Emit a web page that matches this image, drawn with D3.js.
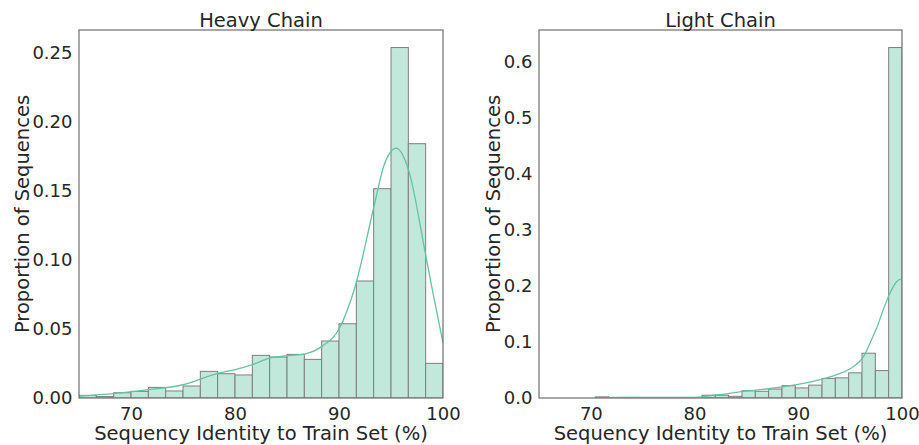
<!DOCTYPE html>
<html>
<head>
<meta charset="utf-8">
<script src="https://cdn.jsdelivr.net/npm/d3@7"></script>
<style>
  html, body { margin: 0; padding: 0; background: #ffffff; }
  svg text { font-family: "DejaVu Sans", sans-serif; fill: #262626; }
</style>
</head>
<body>
<svg id="chart" width="919" height="445"></svg>
<script>
// Heavy chain: 21 bins spanning 65–100 % identity
const heavyBinStart = 65;
const heavyBinEnd = 100;
const heavyProportions = [
  0.0019, 0.0010, 0.0038, 0.0048, 0.0077, 0.0051, 0.0087,
  0.0193, 0.0176, 0.0167, 0.0309, 0.0297, 0.0316, 0.0280,
  0.0413, 0.0538, 0.0848, 0.1517, 0.2540, 0.1843, 0.0251
];
// Heavy chain density curve (identity %, proportion)
const heavyKdeX = [65.1, 68.3, 71.7, 75.0, 78.4, 80.0, 81.6, 83.4, 85.1, 86.75,
  88.36, 89.96, 91.56, 93.33, 94.3, 95.5, 96.7, 98.3, 99.1, 100];
const heavyKdeY = [0.0014, 0.0031, 0.0060, 0.0096, 0.0180, 0.0205, 0.0240, 0.0290, 0.0307, 0.0320,
  0.0374, 0.0495, 0.0810, 0.1377, 0.1680, 0.1810, 0.1650, 0.1050, 0.0736, 0.0400];

// Light chain: 28 bins spanning 64–100 % identity
const lightBinStart = 64;
const lightBinEnd = 100;
const lightProportions = [
  0, 0, 0, 0, 0, 0.002, 0, 0.001, 0, 0, 0, 0, 0,
  0.005, 0.005, 0.003, 0.013, 0.012, 0.016, 0.022, 0.018,
  0.023, 0.035, 0.036, 0.045, 0.080, 0.049, 0.626
];
// Light chain density curve (identity %, proportion)
const lightKdeX = [70.5, 73, 76, 79.6, 82.1, 84.7, 87.3, 89.85, 92.4, 93.7,
  95.0, 96.3, 97.2, 97.56, 98.2, 98.84, 99.5, 99.87, 100];
const lightKdeY = [0.0008, 0.0009, 0.0010, 0.0010, 0.0054, 0.0118, 0.0170, 0.0238, 0.0340, 0.0416,
  0.0523, 0.0743, 0.1100, 0.1250, 0.1580, 0.1875, 0.2080, 0.2125, 0.2120];

const xTicks = [70, 80, 90, 100];
const heavyYTicks = [0, 0.05, 0.10, 0.15, 0.20, 0.25];
const lightYTicks = [0, 0.1, 0.2, 0.3, 0.4, 0.5, 0.6];

const titles = ["Heavy Chain", "Light Chain"];
const xLabel = "Sequency Identity to Train Set (%)";
const yLabel = "Proportion of Sequences";

const barFill = "#c2e7db";
const barEdge = "#7f7f7f";
const lineColor = "#66c2a5";
const spineColor = "#6e6e6e";
const labelSize = 19.5;
const tickSize = 18;

const svg = d3.select("#chart");

function panel(opts) {
  const { left, right, top, bottom, idx, start, end, values, kx, ky, yTicks, yFmt } = opts;
  const x = d3.scaleLinear().domain([65, 100]).range([left, right]);
  const yMax = d3.max(values) * 1.05;
  const y = d3.scaleLinear().domain([0, yMax]).range([bottom, top]);
  const n = values.length;
  const w = (end - start) / n;
  const bins = values.map((v, i) => ({ x0: start + i * w, x1: start + (i + 1) * w, v }));

  const g = svg.append("g");
  const clipId = "clip" + idx;
  svg.append("defs").append("clipPath").attr("id", clipId)
    .append("rect").attr("x", left).attr("y", top)
    .attr("width", right - left).attr("height", bottom - top);

  const plot = g.append("g").attr("clip-path", `url(#${clipId})`);
  plot.selectAll("rect.bar").data(bins).join("rect")
    .attr("class", "bar")
    .attr("x", d => x(d.x0))
    .attr("width", d => x(d.x1) - x(d.x0))
    .attr("y", d => y(d.v))
    .attr("height", d => y(0) - y(d.v))
    .attr("fill", barFill)
    .attr("stroke", barEdge)
    .attr("stroke-width", 1);

  const pts = kx.map((xv, i) => [xv, ky[i]]);
  plot.append("path")
    .datum(pts)
    .attr("fill", "none")
    .attr("stroke", lineColor)
    .attr("stroke-width", 1.3)
    .attr("d", d3.line().x(d => x(d[0])).y(d => y(d[1])).curve(d3.curveMonotoneX));

  // frame
  g.append("rect")
    .attr("x", left).attr("y", top)
    .attr("width", right - left).attr("height", bottom - top)
    .attr("fill", "none").attr("stroke", spineColor).attr("stroke-width", 1.2);

  // axes (labels only, no tick marks)
  const xAxis = d3.axisBottom(x).tickValues(xTicks).tickSize(0).tickPadding(9.2);
  const gx = g.append("g").attr("transform", `translate(0,${bottom})`).call(xAxis);
  gx.select(".domain").remove();
  gx.selectAll("text").attr("font-size", tickSize).style("font-family", "DejaVu Sans").attr("fill", "#262626");

  const yAxis = d3.axisLeft(y).tickValues(yTicks).tickSize(0).tickPadding(6.5).tickFormat(yFmt);
  const gy = g.append("g").attr("transform", `translate(${left},0)`).call(yAxis);
  gy.select(".domain").remove();
  gy.selectAll("text").attr("font-size", tickSize).style("font-family", "DejaVu Sans").attr("fill", "#262626");

  g.append("text")
    .attr("x", (left + right) / 2).attr("y", 27)
    .attr("text-anchor", "middle").attr("font-size", labelSize)
    .text(titles[idx]);

  g.append("text")
    .attr("x", (left + right) / 2).attr("y", 440)
    .attr("text-anchor", "middle").attr("font-size", labelSize)
    .text(xLabel);

  g.append("text")
    .attr("transform", `translate(${opts.yLabelX},${(top + bottom) / 2}) rotate(-90)`)
    .attr("text-anchor", "middle").attr("font-size", labelSize)
    .text(yLabel);
}

panel({
  left: 79, right: 443, top: 30, bottom: 398, idx: 0,
  start: heavyBinStart, end: heavyBinEnd, values: heavyProportions,
  kx: heavyKdeX, ky: heavyKdeY, yTicks: heavyYTicks, yFmt: d3.format(".2f"),
  yLabelX: 28.5
});
panel({
  left: 539, right: 902, top: 30, bottom: 398, idx: 1,
  start: lightBinStart, end: lightBinEnd, values: lightProportions,
  kx: lightKdeX, ky: lightKdeY, yTicks: lightYTicks, yFmt: d3.format(".1f"),
  yLabelX: 499.5
});
</script>
</body>
</html>
